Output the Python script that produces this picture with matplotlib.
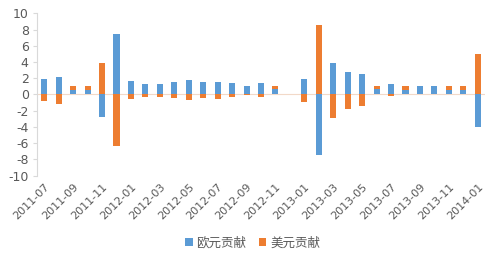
import matplotlib
matplotlib.use('Agg')
import matplotlib.pyplot as plt
import numpy as np

plt.rcParams['font.family'] = ['DejaVu Sans', 'Noto Sans CJK SC']

# monthly contributions, 2011-07 .. 2014-01
months = ['2011-07', '2011-08', '2011-09', '2011-10', '2011-11', '2011-12',
          '2012-01', '2012-02', '2012-03', '2012-04', '2012-05', '2012-06',
          '2012-07', '2012-08', '2012-09', '2012-10', '2012-11', '2012-12',
          '2013-01', '2013-02', '2013-03', '2013-04', '2013-05', '2013-06',
          '2013-07', '2013-08', '2013-09', '2013-10', '2013-11', '2013-12',
          '2014-01']
eur = [1.9, 2.2, 0.6, 0.6, -2.75, 7.4, 1.7, 1.25, 1.3, 1.55, 1.75, 1.5,
       1.5, 1.4, 1.05, 1.4, 0.65, 0.0, 1.95, -7.5, 3.9, 2.8, 2.55, 0.65,
       1.3, 0.6, 1.1, 1.05, 0.6, 0.6, -3.95]
usd = [-0.8, -1.15, 0.45, 0.45, 3.85, -6.3, -0.6, -0.25, -0.3, -0.45, -0.7, -0.45,
       -0.5, -0.3, -0.03, -0.3, 0.4, 0.0, -0.95, 8.55, -2.85, -1.75, -1.45, 0.4,
       -0.2, 0.45, 0.0, 0.0, 0.45, 0.45, 4.95]
series_names = ['欧元贡献', '美元贡献']
yticks = np.arange(-10, 11, 2)

blue = '#5B9BD5'
orange = '#ED7D31'
grey = '#595959'

x = np.arange(len(months))
eur_a = np.array(eur)
usd_a = np.array(usd)
# stack like excel: positives on positives, negatives on negatives
bottom = np.where(np.sign(eur_a) == np.sign(usd_a), eur_a, 0.0)

fig = plt.figure(figsize=(5, 2.6), dpi=100)
ax = fig.add_axes([37 / 500, 1 - 175.7 / 260, 448 / 500, 162.4 / 260])

ax.bar(x, eur_a, width=0.42, color=blue, label=series_names[0], zorder=2)
ax.bar(x, usd_a, width=0.42, bottom=bottom, color=orange,
       label=series_names[1], zorder=2)
ax.axhline(0, color='#F2D9C8', linewidth=0.8, zorder=1)

ax.set_xlim(-0.5, len(months) - 0.5)
ax.set_ylim(-10, 10)
ax.set_yticks(yticks)
ax.set_yticklabels([str(v) for v in yticks], fontsize=9, color=grey)
ax.set_xticks(x[::2])
ax.set_xticklabels(months[::2], rotation=45, ha='right',
                   rotation_mode='anchor', fontsize=8, color=grey)
ax.tick_params(axis='x', length=0, pad=4)
ax.tick_params(axis='y', length=3, color='#D9D9D9', width=0.8, pad=3)

for s in ['top', 'right', 'bottom']:
    ax.spines[s].set_visible(False)
ax.spines['left'].set_color('#D9D9D9')
ax.spines['left'].set_linewidth(0.8)

fig.legend(loc='center', bbox_to_anchor=(0.505, 0.065), ncol=2, frameon=False,
           fontsize=9, handlelength=0.6, handleheight=0.6, handletextpad=0.3,
           columnspacing=1.0, labelcolor=grey,
           prop={'family': ['Noto Sans CJK SC', 'DejaVu Sans'], 'size': 9})

fig.savefig('out.png', dpi=100)
